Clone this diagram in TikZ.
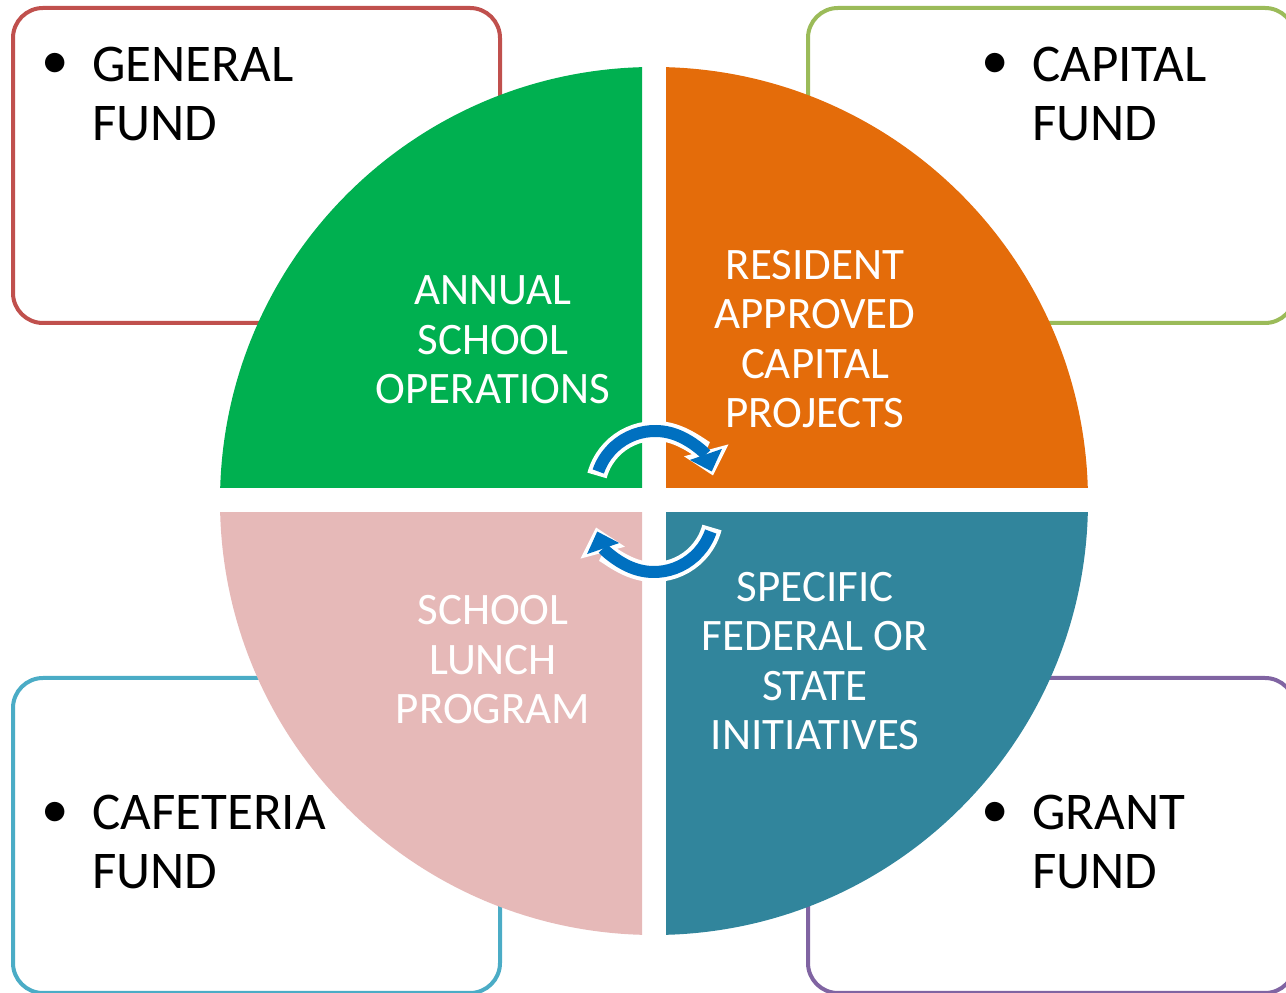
\documentclass[tikz,border=0pt]{standalone}
\usepackage{fontspec}
\setmainfont{Carlito}
\usetikzlibrary{arrows.meta}
\definecolor{qGreen}{HTML}{00B050}
\definecolor{qOrange}{HTML}{E46C0A}
\definecolor{qPink}{HTML}{E6B9B8}
\definecolor{qTeal}{HTML}{31859C}
\definecolor{bRed}{HTML}{C0504D}
\definecolor{bGreen}{HTML}{9BBB59}
\definecolor{bAqua}{HTML}{4BACC6}
\definecolor{bPurple}{HTML}{8064A2}
\definecolor{arrBlue}{HTML}{0070C0}
\tikzset{
  fundbox/.style={line width=4pt, rounded corners=30pt, fill=white},
  fundtext/.style={anchor=base west, align=left, inner sep=0pt, font=\fontsize{53}{59}\selectfont},
  bullettext/.style={anchor=center, inner sep=0pt, font=\fontsize{55}{59}\selectfont},
  quadtext/.style={anchor=base, align=center, inner sep=0pt, text=white, font=\fontsize{45}{49.5}\selectfont},
  arrowrim/.style={white, line width=20pt, -{Triangle[width=46pt,length=26pt,line width=0pt]}},
  arrowcore/.style={arrBlue, line width=12pt, -{Triangle[width=34pt,length=18pt,line width=0pt]}}
}
\begin{document}
\begin{tikzpicture}[x=1pt,y=1pt]
\useasboundingbox (0,0) rectangle (1286,993);
% fund boxes
\draw[fundbox, draw=bRed] (13,670) rectangle (500,985);
\draw[fundbox, draw=bGreen] (808,670) rectangle (1295,985);
\draw[fundbox, draw=bAqua] (13,0) rectangle (500,315);
\draw[fundbox, draw=bPurple] (808,0) rectangle (1295,315);
% quadrants
\begin{scope}
  \clip (0,505) rectangle (642,993);
  \fill[qGreen] (654,492) circle (434);
\end{scope}
\begin{scope}
  \clip (666,505) rectangle (1286,993);
  \fill[qOrange] (654,492) circle (434);
\end{scope}
\begin{scope}
  \clip (0,0) rectangle (642,480);
  \fill[qPink] (654,492) circle (434);
\end{scope}
\begin{scope}
  \clip (666,0) rectangle (1286,480);
  \fill[qTeal] (654,492) circle (434);
\end{scope}
% circular arrows
\draw[arrowrim] ([shift={(165:60)}]655,502) arc[start angle=165, end angle=15, radius=60];
\draw[arrowcore] ([shift={(161:60)}]655,502) arc[start angle=161, end angle=19, radius=60];
\draw[arrowrim] ([shift={(-15:60)}]654,481) arc[start angle=-15, end angle=-165, radius=60];
\draw[arrowcore] ([shift={(-19:60)}]654,481) arc[start angle=-19, end angle=-161, radius=60];
% fund labels
\node[bullettext] (b1) at (55,927) {\textbullet};
\node[fundtext] (t1) at (92,852) {GENERAL\\FUND};
\node[bullettext] (b2) at (995,927) {\textbullet};
\node[fundtext] (t2) at (1032,852) {CAPITAL\\FUND};
\node[bullettext] (b3) at (55,178) {\textbullet};
\node[fundtext] (t3) at (92,104) {CAFETERIA\\FUND};
\node[bullettext] (b4) at (995,178) {\textbullet};
\node[fundtext] (t4) at (1032,104) {GRANT\\FUND};
% quadrant labels
\node[quadtext] (q1) at (493,589) {ANNUAL\\SCHOOL\\OPERATIONS};
\node[quadtext] (q2) at (815,565) {RESIDENT\\APPROVED\\CAPITAL\\PROJECTS};
\node[quadtext] (q3) at (493,269) {SCHOOL\\LUNCH\\PROGRAM};
\node[quadtext] (q4) at (815,243) {SPECIFIC\\FEDERAL OR\\STATE\\INITIATIVES};
\end{tikzpicture}
\end{document}
